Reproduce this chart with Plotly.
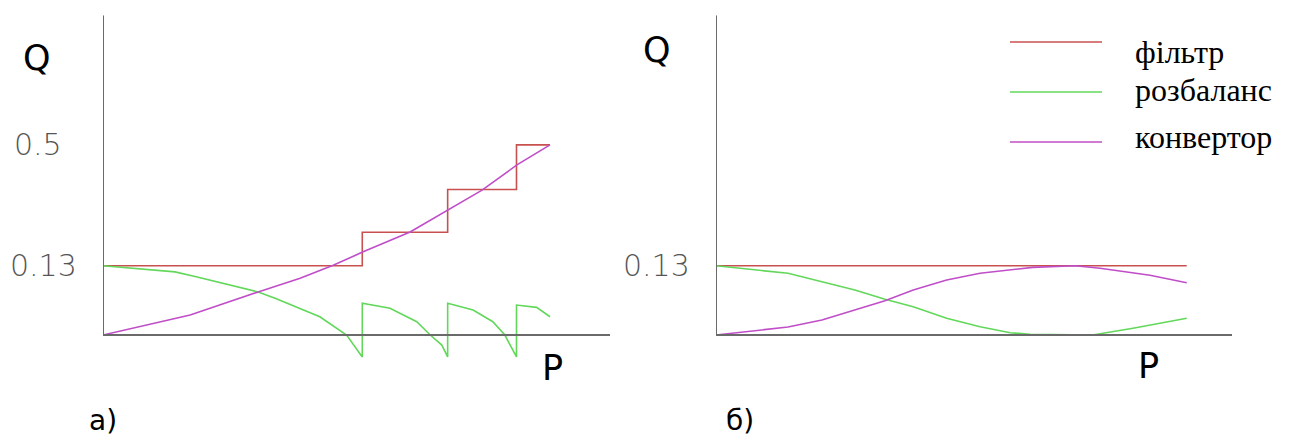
import numpy as np
import plotly.graph_objects as go

# ---- data -------------------------------------------------------------
# panel a): Q(P) for the three methods
p_filter_a = [0.0, 0.58, 0.771, 0.925, 1.0]
q_filter_a = [0.13, 0.22, 0.35, 0.5, 0.5]

p_imbal_a = [0.0, 0.161, 0.206, 0.347, 0.385, 0.485, 0.545, 0.58,
             0.58, 0.642, 0.702, 0.732, 0.758, 0.771,
             0.771, 0.828, 0.872, 0.899, 0.925,
             0.925, 0.970, 1.0]
q_imbal_a = [0.13, 0.115, 0.104, 0.069, 0.056, 0.022, 0.0, -0.028,
             0.046, 0.0365, 0.0144, 0.0, -0.0099, -0.028,
             0.046, 0.0334, 0.0144, 0.0, -0.028,
             0.0426, 0.0383, 0.022]

p_conv_a = [0.0, 0.195, 0.347, 0.441, 0.515, 0.582, 0.687, 0.772, 0.848, 0.926, 1.0]
q_conv_a = [0.0, 0.0248, 0.069, 0.100, 0.1316, 0.166, 0.221, 0.286, 0.348, 0.431, 0.5]

# panel б)
p_filter_b = [0.0, 1.0]
q_filter_b = [0.13, 0.13]

p_imbal_b = [0.0, 0.047, 0.153, 0.225, 0.295, 0.359, 0.419, 0.490, 0.561,
             0.625, 0.667, 0.80, 0.886, 1.0]
q_imbal_b = [0.13, 0.124, 0.1115, 0.0917, 0.0732, 0.0537, 0.0394, 0.0195, 0.0077,
             0.0014, 0.0003, 0.0, 0.0058, 0.0195]

p_conv_b = [0.0, 0.153, 0.225, 0.295, 0.359, 0.419, 0.490, 0.561, 0.631,
            0.673, 0.763, 0.816, 0.922, 1.0]
q_conv_b = [0.0, 0.0073, 0.0169, 0.0334, 0.051, 0.0732, 0.0956, 0.1115, 0.1212,
            0.126, 0.13, 0.1237, 0.107, 0.0894]

q_ticks = [0.13, 0.5]
q_tick_text = ["0.13", "0.5"]
series_names = ["фільтр", "розбаланс", "конвертор"]
panel_labels = ["а)", "б)"]

# ---- styling ----------------------------------------------------------
COL_FILTER = "#c8504f"
COL_IMBAL = "#62d85a"
COL_CONV = "#c04ec8"
AXIS_COL = "#6a6a6a"
POW = 0.75  # compressed Q scale


def qscale(q):
    q = np.asarray(q, dtype=float)
    return np.sign(q) * np.abs(q) ** POW


fig = go.Figure()


def add_line(p, q, color, xa, ya, shape="linear"):
    fig.add_trace(go.Scatter(
        x=p, y=qscale(q), mode="lines", xaxis=xa, yaxis=ya,
        line=dict(color=color, width=1.6, shape=shape),
        showlegend=False, hoverinfo="skip"))


add_line(p_filter_a, q_filter_a, COL_FILTER, "x", "y", "hv")
add_line(p_imbal_a, q_imbal_a, COL_IMBAL, "x", "y")
add_line(p_conv_a, q_conv_a, COL_CONV, "x", "y")

add_line(p_filter_b, q_filter_b, COL_FILTER, "x2", "y2")
add_line(p_imbal_b, q_imbal_b, COL_IMBAL, "x2", "y2")
add_line(p_conv_b, q_conv_b, COL_CONV, "x2", "y2")

W, H = 1289, 441
Y_RANGE = [-0.08, 1.0]
X_RANGE_A = [0, 1.1342]
X_RANGE_B = [0, 1.0962]

ax_common = dict(visible=False, fixedrange=True)
fig.update_layout(
    width=W, height=H,
    margin=dict(l=0, r=0, t=0, b=0),
    paper_bgcolor="white", plot_bgcolor="white",
    xaxis=dict(domain=[0.07991, 0.47324], range=X_RANGE_A, **ax_common),
    yaxis=dict(domain=[0.1823, 0.9655], range=Y_RANGE, **ax_common),
    xaxis2=dict(domain=[0.55547, 0.95578], range=X_RANGE_B, anchor="y2", **ax_common),
    yaxis2=dict(domain=[0.1823, 0.9655], range=Y_RANGE, anchor="x2", **ax_common),
)

# axis lines
for xa, ya, xr in [("x", "y", X_RANGE_A), ("x2", "y2", X_RANGE_B)]:
    fig.add_shape(type="line", xref=xa, yref=ya, x0=0, x1=xr[1], y0=0, y1=0,
                  line=dict(color=AXIS_COL, width=2))
    fig.add_shape(type="line", xref=xa, yref=ya, x0=0, x1=0, y0=0, y1=Y_RANGE[1],
                  line=dict(color=AXIS_COL, width=2))

tick_font = dict(family="DejaVu Sans", size=30, color="#555555", weight=200)
big_font = dict(family="DejaVu Sans", size=35, color="black")
lbl_font = dict(family="DejaVu Sans", size=28, color="black")


def note(x, y, text, font, xref="paper", yref="paper", xanchor="center"):
    fig.add_annotation(x=x, y=y, xref=xref, yref=yref, text=text,
                       showarrow=False, font=font,
                       xanchor=xanchor, yanchor="middle")


# tick labels
note(43 / W, float(qscale(q_ticks[0])), q_tick_text[0], tick_font, yref="y")
note(38 / W, float(qscale(q_ticks[1])), q_tick_text[1], tick_font, yref="y")
note(656 / W, float(qscale(q_ticks[0])), q_tick_text[0], tick_font, yref="y2")

# axis names
for xp, yp, t in [(37, 58, "Q"), (657, 50, "Q"), (552, 368, "P"), (1148, 366, "P")]:
    note(xp / W, 1 - yp / H, t, big_font)

# panel labels
for xp, yp, t in [(103, 420, panel_labels[0]), (740, 420, panel_labels[1])]:
    note(xp / W, 1 - yp / H, t, lbl_font)

# legend
leg_rows = [(42, 52, COL_FILTER), (92, 90, COL_IMBAL), (142, 137, COL_CONV)]
for (ly, ty, col), name in zip(leg_rows, series_names):
    fig.add_shape(type="line", xref="paper", yref="paper",
                  x0=1010 / W, x1=1102 / W, y0=1 - ly / H, y1=1 - ly / H,
                  line=dict(color=col, width=1.6))
    note(1133 / W, 1 - ty / H, name,
         dict(family="Liberation Serif", size=32, color="black"), xanchor="left")

fig.write_html("out.html", config=dict(displayModeBar=False))
